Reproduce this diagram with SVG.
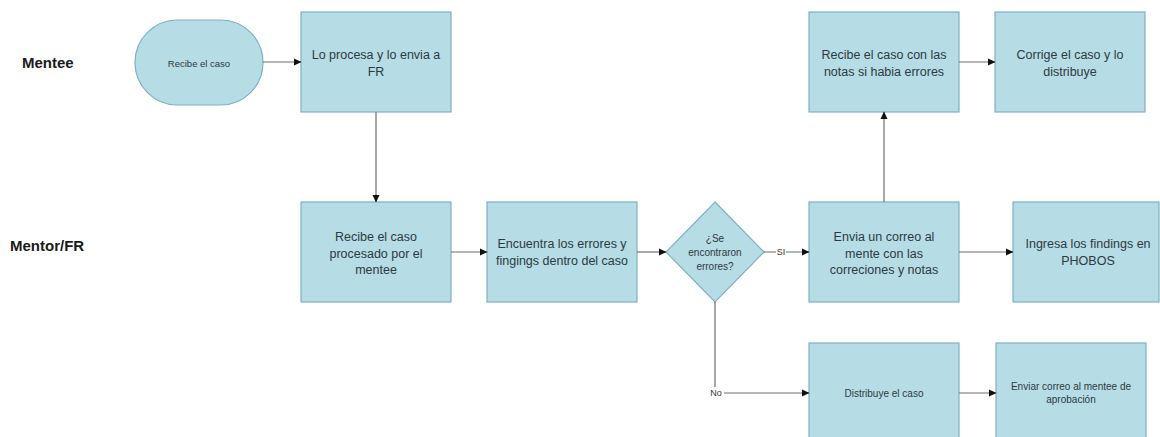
<svg xmlns="http://www.w3.org/2000/svg" width="1160" height="437" viewBox="0 0 1160 437">
<defs>
<marker id="arr" markerWidth="8" markerHeight="8" refX="7" refY="4" orient="auto" markerUnits="userSpaceOnUse">
<path d="M0,0.5 L7.5,4 L0,7.5 Z" fill="#111"/>
</marker>
<style>
.box{fill:#b6dce6;stroke:#7db1c2;stroke-width:1.2}
.t{font-family:"Liberation Sans",Arial,sans-serif;font-size:12.5px;fill:#2d3a40;text-anchor:middle;dominant-baseline:central}
.s{font-family:"Liberation Sans",Arial,sans-serif;font-size:10px;fill:#2d3a40;text-anchor:middle;dominant-baseline:central}
.lane{font-family:"Liberation Sans",Arial,sans-serif;font-size:15px;font-weight:bold;fill:#1a1a1a;dominant-baseline:central}
.c{fill:none;stroke:#6e6e6e;stroke-width:1.2}
.lbl{font-family:"Liberation Sans",Arial,sans-serif;font-size:9px;fill:#333;text-anchor:middle;dominant-baseline:central}
</style>
</defs>
<rect width="1160" height="437" fill="#fff"/>

<g id="lanes">
<text class="lane" x="22" y="62">Mentee</text>
<text class="lane" x="10" y="245">Mentor/FR</text>
</g>

<g id="n1">
<rect class="box" x="135" y="20" width="128" height="85" rx="42.5" ry="42.5"/>
<text class="s" x="199" y="63" style="font-size:9.5px">Recibe el caso</text>
</g>
<g id="n2">
<rect class="box" x="301" y="12" width="150" height="100"/>
<text class="t" x="376" y="55">Lo procesa y lo envia a</text>
<text class="t" x="376" y="72">FR</text>
</g>
<g id="n3">
<rect class="box" x="809" y="12" width="150" height="100"/>
<text class="t" x="884" y="55">Recibe el caso con las</text>
<text class="t" x="884" y="72">notas si habia errores</text>
</g>
<g id="n4">
<rect class="box" x="995" y="12" width="150" height="100"/>
<text class="t" x="1070" y="55">Corrige el caso y lo</text>
<text class="t" x="1070" y="72">distribuye</text>
</g>
<g id="n5">
<rect class="box" x="301" y="202" width="150" height="100"/>
<text class="t" x="376" y="237">Recibe el caso</text>
<text class="t" x="376" y="253.5">procesado por el</text>
<text class="t" x="376" y="270">mentee</text>
</g>
<g id="n6">
<rect class="box" x="487" y="202" width="150" height="100"/>
<text class="t" x="562" y="244">Encuentra los errores y</text>
<text class="t" x="562" y="261">fingings dentro del caso</text>
</g>
<g id="n7">
<polygon class="box" points="715,202 764,252 715,302 666,252"/>
<text class="s" x="715" y="238">¿Se</text>
<text class="s" x="715" y="252">encontraron</text>
<text class="s" x="715" y="266">errores?</text>
</g>
<g id="n8">
<rect class="box" x="809" y="202" width="150" height="100"/>
<text class="t" x="884" y="237">Envia un correo al</text>
<text class="t" x="884" y="253.5">mente con las</text>
<text class="t" x="884" y="270">correciones y notas</text>
</g>
<g id="n9">
<rect class="box" x="1013" y="202" width="146" height="100"/>
<text class="t" x="1088" y="244">Ingresa los findings en</text>
<text class="t" x="1088" y="261">PHOBOS</text>
</g>
<g id="n10">
<rect class="box" x="809" y="343" width="150" height="100"/>
<text class="s" x="884" y="393">Distribuye el caso</text>
</g>
<g id="n11">
<rect class="box" x="996" y="343" width="150" height="100"/>
<text class="s" x="1071" y="386">Enviar correo al mentee de</text>
<text class="s" x="1071" y="399">aprobación</text>
</g>

<g id="connectors">
<path class="c" d="M263,62 H301" marker-end="url(#arr)"/>
<path class="c" d="M376,112 V202" marker-end="url(#arr)"/>
<path class="c" d="M959,62 H995" marker-end="url(#arr)"/>
<path class="c" d="M451,252 H487" marker-end="url(#arr)"/>
<path class="c" d="M637,252 H666" marker-end="url(#arr)"/>
<path class="c" d="M764,252 H809" marker-end="url(#arr)"/>
<path class="c" d="M884,202 V112" marker-end="url(#arr)"/>
<path class="c" d="M959,252 H1013" marker-end="url(#arr)"/>
<path class="c" d="M715,302 V393 H809" marker-end="url(#arr)"/>
<path class="c" d="M959,393 H996" marker-end="url(#arr)"/>
<rect x="776" y="246" width="10" height="12" fill="#fff"/>
<text class="lbl" x="781" y="252">SI</text>
<rect x="708" y="387" width="16" height="12" fill="#fff"/>
<text class="lbl" x="716" y="393">No</text>
</g>
</svg>
